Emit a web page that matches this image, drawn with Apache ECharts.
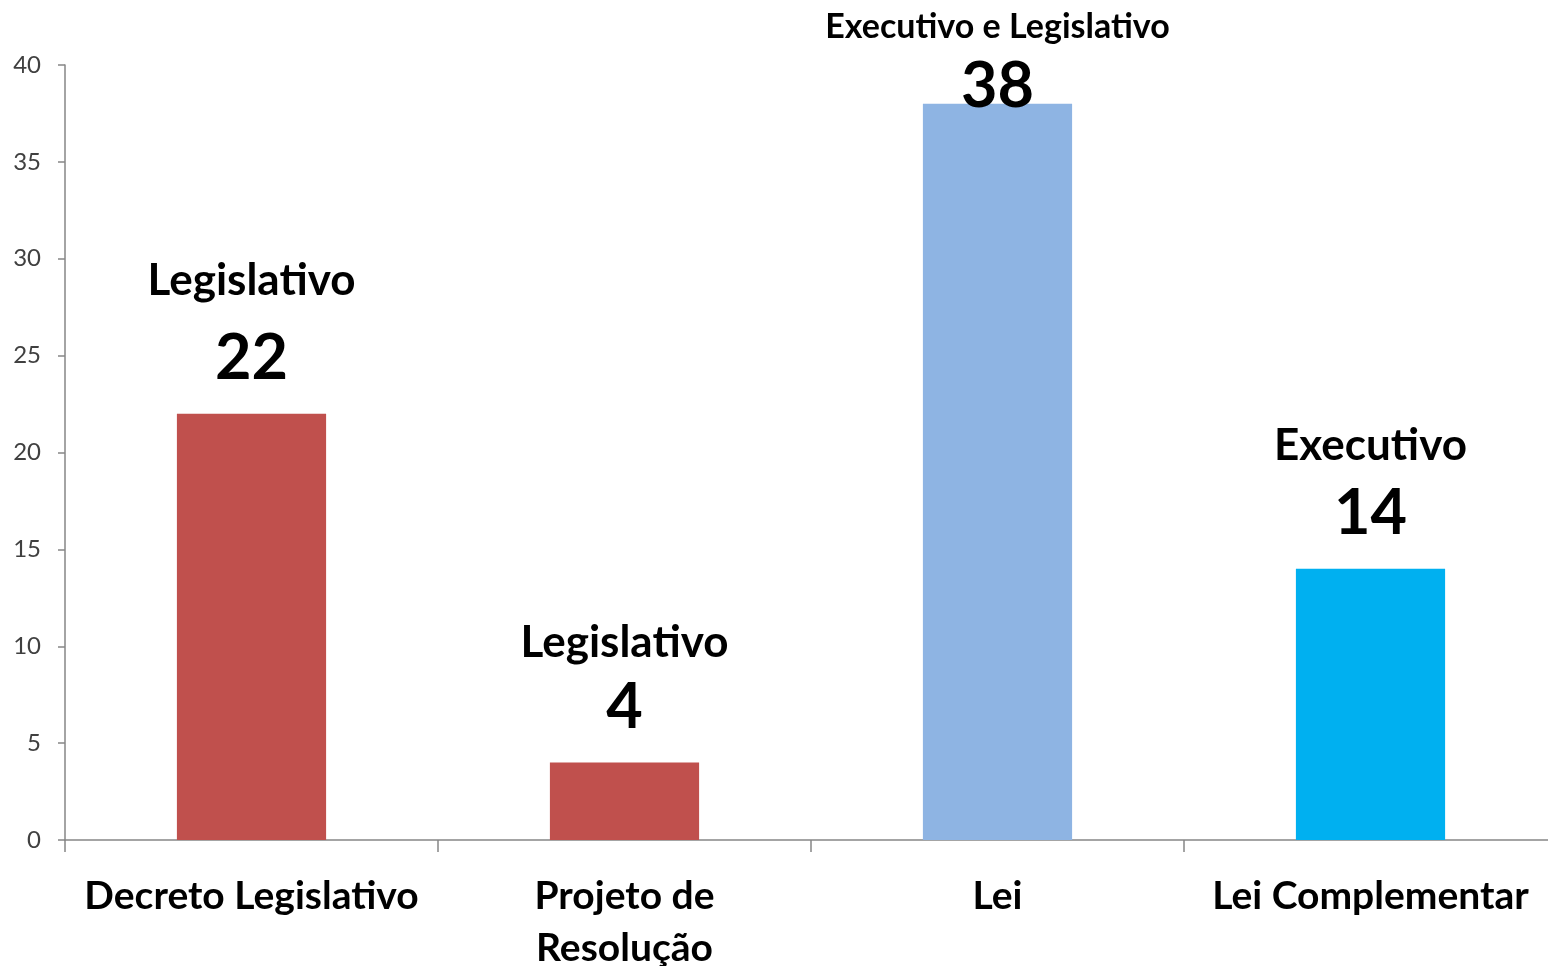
<!DOCTYPE html>
<html style="height: 100%">
<head>
    <meta charset="utf-8">
</head>
<body style="height: 100%; margin: 0; background: #fff">
    <div id="container" style="height: 100%"></div>
    <script type="text/javascript" src="https://cdn.jsdelivr.net/npm/echarts@6/dist/echarts.min.js"></script>
    <script type="text/javascript">
        // dados
        var categorias = ['Decreto Legislativo', 'Projeto de\nResolução', 'Lei', 'Lei Complementar'];
        var valores = [22, 4, 38, 14];
        var origem = ['Legislativo', 'Legislativo', 'Executivo e Legislativo', 'Executivo'];
        var yTicks = [0, 5, 10, 15, 20, 25, 30, 35, 40];

        // estilo de cada barra
        var cores = ['#C0504D', '#C0504D', '#8EB4E3', '#00B0F0'];
        var tituloTam = [44, 44, 34, 44];
        var tituloAltura = [86, 60, 50, 66];
        var deslocamento = [0, 0, 38, 0];

        var fonte = 'Lato';
        var dom = document.getElementById('container');
        var myChart = echarts.init(dom);

        var dados = valores.map(function (v, i) {
            return {
                value: v,
                itemStyle: { color: cores[i] },
                label: {
                    show: true,
                    position: 'top',
                    distance: 20,
                    offset: [0, deslocamento[i]],
                    formatter: '{t|' + origem[i] + '}\n{v|' + v + '}',
                    rich: {
                        t: { fontFamily: fonte, fontWeight: 'bold', fontSize: tituloTam[i], color: '#000', lineHeight: tituloAltura[i] },
                        v: { fontFamily: fonte, fontWeight: 'bold', fontSize: 63, color: '#000', lineHeight: 70 }
                    }
                }
            };
        });

        var option = {
            animation: false,
            grid: { left: 65, width: 1492, top: 65, bottom: 126, outerBoundsMode: 'none', containLabel: false },
            xAxis: {
                type: 'category',
                data: categorias,
                axisLine: { lineStyle: { color: '#868686', width: 1.5 } },
                axisTick: { show: true, length: 12, lineStyle: { color: '#868686', width: 1.5 } },
                axisLabel: {
                    interval: 0,
                    margin: 30,
                    color: '#000',
                    fontFamily: fonte,
                    fontWeight: 'bold',
                    fontSize: 39,
                    lineHeight: 52
                }
            },
            yAxis: {
                type: 'value',
                min: yTicks[0],
                max: yTicks[yTicks.length - 1],
                interval: 5,
                splitLine: { show: false },
                axisLine: { show: true, lineStyle: { color: '#868686', width: 1.5 } },
                axisTick: { show: true, length: 7, inside: false, lineStyle: { color: '#868686', width: 1.5 } },
                axisLabel: { color: '#404040', fontFamily: fonte, fontSize: 24, margin: 24 }
            },
            series: [{
                type: 'bar',
                barWidth: '40%',
                data: dados
            }]
        };

        myChart.setOption(option);
    </script>
</body>
</html>
